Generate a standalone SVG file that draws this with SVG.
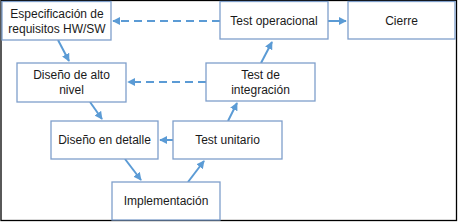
<svg xmlns="http://www.w3.org/2000/svg" width="458" height="222" viewBox="0 0 458 222">
<defs>
<marker id="ah" viewBox="0 0 10 10" refX="9" refY="5" markerWidth="4" markerHeight="4" orient="auto" markerUnits="strokeWidth">
<path d="M0,0 L10,5 L0,10 z" fill="#5b9bd5"/>
</marker>
<style>
.box{fill:#fff;stroke:#7f9fcb;stroke-width:1.3}
.t{font-family:"Liberation Sans",Arial,sans-serif;font-size:12px;fill:#1a1a1a;text-anchor:middle}
.c{stroke:#5b9bd5;stroke-width:2;fill:none;marker-end:url(#ah)}
.d{stroke-dasharray:8 5}
</style>
</defs>
<rect x="0" y="0" width="458" height="222" fill="#fff"/>
<rect x="1" y="0.5" width="455.5" height="220" fill="none" stroke="#000" stroke-width="1.3"/>
<g id="connectors">
<line class="c d" x1="220" y1="21" x2="113" y2="21"/>
<line class="c d" x1="206" y1="82" x2="128" y2="82"/>
<line class="c" x1="328" y1="21" x2="346" y2="21"/>
<line class="c" x1="58" y1="40" x2="69" y2="61"/>
<line class="c" x1="90" y1="102" x2="102" y2="119"/>
<line class="c" x1="125" y1="159" x2="141" y2="180"/>
<line class="c" x1="188" y1="182" x2="204" y2="161"/>
<line class="c" x1="173" y1="140" x2="160" y2="140"/>
<line class="c" x1="228" y1="121" x2="237" y2="103"/>
<line class="c" x1="261" y1="63" x2="272" y2="42"/>
</g>
<g id="n1"><rect class="box" x="2" y="1.5" width="109" height="38.5"/><text class="t" x="57" y="18">Especificación de</text><text class="t" x="57" y="33">requisitos HW/SW</text></g>
<g id="n2"><rect class="box" x="17" y="63" width="109" height="39"/><text class="t" x="71.5" y="79">Diseño de alto</text><text class="t" x="71.5" y="94">nivel</text></g>
<g id="n3"><rect class="box" x="51" y="121" width="107" height="38"/><text class="t" x="104.5" y="144">Diseño en detalle</text></g>
<g id="n4"><rect class="box" x="112" y="182" width="108" height="38"/><text class="t" x="166" y="205">Implementación</text></g>
<g id="n5"><rect class="box" x="173" y="121" width="109" height="38"/><text class="t" x="227.5" y="144">Test unitario</text></g>
<g id="n6"><rect class="box" x="206" y="63" width="109" height="38"/><text class="t" x="260.5" y="79">Test de</text><text class="t" x="260.5" y="94">integración</text></g>
<g id="n7"><rect class="box" x="220" y="1.5" width="108" height="37.5"/><text class="t" x="274" y="25">Test operacional</text></g>
<g id="n8"><rect class="box" x="348" y="1.5" width="107" height="37.5"/><text class="t" x="401.5" y="25">Cierre</text></g>
</svg>
